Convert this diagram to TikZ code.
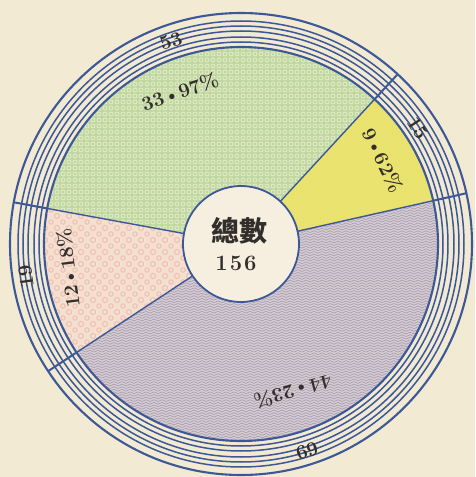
\documentclass[tikz,border=0pt]{standalone}
\usepackage{fontspec}
\newfontfamily\cjk{Noto Sans CJK TC}
\usetikzlibrary{patterns}
\definecolor{paper}{RGB}{243,234,212}
\definecolor{ringblue}{RGB}{60,88,150}
\definecolor{greenbase}{RGB}{192,216,160}
\definecolor{greenpat}{RGB}{228,236,204}
\definecolor{yellowbase}{RGB}{233,226,108}
\definecolor{yellowpat}{RGB}{242,238,165}
\definecolor{purplebase}{RGB}{214,204,206}
\definecolor{purplepat}{RGB}{165,155,182}
\definecolor{pinkbase}{RGB}{245,224,208}
\definecolor{pinkpat}{RGB}{236,190,180}
\definecolor{hubfill}{RGB}{246,239,224}
\definecolor{ink}{RGB}{50,46,44}

\pgfdeclarepatternformonly{gcircles}{\pgfpoint{-0.5pt}{-0.5pt}}{\pgfpoint{6.5pt}{6.5pt}}{\pgfpoint{6pt}{6pt}}{%
  \pgfsetlinewidth{0.8pt}%
  \pgfpathcircle{\pgfpoint{3pt}{3pt}}{2pt}%
  \pgfusepath{stroke}}
\pgfdeclarepatternformonly{ydots}{\pgfpointorigin}{\pgfpoint{3pt}{3pt}}{\pgfpoint{3pt}{3pt}}{%
  \pgfpathcircle{\pgfpoint{1.5pt}{1.5pt}}{0.6pt}%
  \pgfusepath{fill}}
\pgfdeclarepatternformonly{pwaves}{\pgfpoint{0pt}{-0.5pt}}{\pgfpoint{8pt}{3pt}}{\pgfpoint{8pt}{2.6pt}}{%
  \pgfsetlinewidth{0.6pt}%
  \pgfpathmoveto{\pgfpoint{0pt}{1pt}}%
  \pgfpathcurveto{\pgfpoint{1.5pt}{2.2pt}}{\pgfpoint{2.5pt}{2.2pt}}{\pgfpoint{4pt}{1pt}}%
  \pgfpathcurveto{\pgfpoint{5.5pt}{-0.2pt}}{\pgfpoint{6.5pt}{-0.2pt}}{\pgfpoint{8pt}{1pt}}%
  \pgfusepath{stroke}}
\pgfdeclarepatternformonly{pblots}{\pgfpoint{-1pt}{-1pt}}{\pgfpoint{13pt}{13pt}}{\pgfpoint{12pt}{12pt}}{%
  \pgfsetlinewidth{1pt}%
  \pgfpathcircle{\pgfpoint{3pt}{3pt}}{2.2pt}%
  \pgfpathcircle{\pgfpoint{9pt}{9pt}}{2.5pt}%
  \pgfusepath{stroke}}

\newcommand{\dotsep}{\kern0.3pt{\fontsize{18}{18}\selectfont\raisebox{0.3pt}{\textbullet}}\kern0.3pt}

\begin{document}
\begin{tikzpicture}[x=1pt,y=1pt,
  ringline/.style={draw=ringblue,line width=1.5pt},
  ringedge/.style={draw=ringblue,line width=2.1pt},
  sepline/.style={draw=ringblue,line width=1.4pt},
  sepring/.style={draw=ringblue,line width=2pt},
  pct/.style={text=ink,font=\fontsize{20}{20}\selectfont\bfseries,inner sep=0pt},
  cnt/.style={text=ink,font=\fontsize{20}{20}\selectfont\bfseries,inner sep=0pt}]
\useasboundingbox (-241,-233) rectangle (234,244);
\fill[paper] (-241,-233) rectangle (234,244);

% sectors
\def\R{197}
\fill[yellowbase] (0,0) -- (12.7:\R) arc[start angle=12.7,end angle=47.3,radius=\R] -- cycle;
\fill[pattern=ydots,pattern color=yellowpat] (0,0) -- (12.7:\R) arc[start angle=12.7,end angle=47.3,radius=\R] -- cycle;
\fill[greenbase] (0,0) -- (47.3:\R) arc[start angle=47.3,end angle=169.6,radius=\R] -- cycle;
\fill[pattern=gcircles,pattern color=greenpat] (0,0) -- (47.3:\R) arc[start angle=47.3,end angle=169.6,radius=\R] -- cycle;
\fill[pinkbase] (0,0) -- (169.6:\R) arc[start angle=169.6,end angle=213.4,radius=\R] -- cycle;
\fill[pattern=pblots,pattern color=pinkpat] (0,0) -- (169.6:\R) arc[start angle=169.6,end angle=213.4,radius=\R] -- cycle;
\fill[purplebase] (0,0) -- (213.4:\R) arc[start angle=213.4,end angle=372.7,radius=\R] -- cycle;
\fill[pattern=pwaves,pattern color=purplepat] (0,0) -- (213.4:\R) arc[start angle=213.4,end angle=372.7,radius=\R] -- cycle;

% rings
\foreach \r in {202,207,213,218,223} \draw[ringline] (0,0) circle[radius=\r];
\draw[ringedge] (0,0) circle[radius=197];
\draw[ringedge] (0,0) circle[radius=231];

% hub
\node[circle,draw=ringblue,line width=1.8pt,fill=hubfill,minimum size=116pt,inner sep=0pt] (hub) at (0,0) {};

% separators
\foreach \a/\n in {12.7/a,47.3/b,169.6/c,213.4/d} {
  \coordinate (in\n) at (\a:58);
  \coordinate (mid\n) at (\a:197);
  \coordinate (out\n) at (\a:231);
  \draw[sepline] (in\n) -- (mid\n);
  \draw[sepring] (mid\n) -- (out\n);
}

% hub texts
\node[text=ink,font=\cjk\bfseries\fontsize{28}{28}\selectfont,inner sep=0pt] (title) at (-1,13) {總數};
\node[text=ink,font=\fontsize{22}{22}\selectfont\bfseries,inner sep=0pt] (total) at (-5,-19) {1\kern2pt5\kern2pt6};

% percentages
\node[pct,rotate=19] (pgreen) at (-61,152) {33\dotsep97\%};
\node[pct,rotate=-64] (pyellow) at (142,84) {9\dotsep62\%};
\node[pct,rotate=97] (ppink) at (-173,-24) {12\dotsep18\%};
\node[pct,rotate=195] (ppurple) at (52,-148) {44\dotsep23\%};

% counts on ring
\node[cnt,rotate=19] (cgreen) at (-70,203) {53};
\node[cnt,rotate=-57] (cyellow) at (177,116) {15};
\node[cnt,rotate=98] (cpink) at (-215,-32) {19};
\node[cnt,rotate=198] (cpurple) at (66,-207) {69};
\end{tikzpicture}
\end{document}
